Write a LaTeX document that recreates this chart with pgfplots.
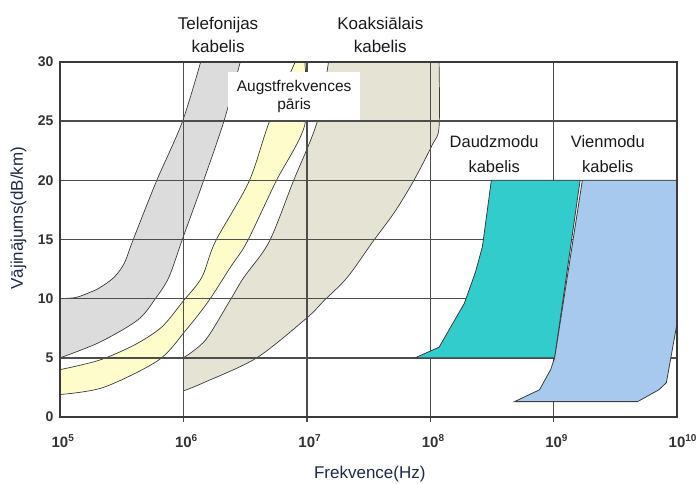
\documentclass[border=0pt]{standalone}
\usepackage{pgfplots}
\pgfplotsset{compat=1.18}
\usepgfplotslibrary{fillbetween}
\usepackage{fontspec}
\setmainfont{Liberation Sans}

\definecolor{telcol}{HTML}{DCDCDC}
\definecolor{hfcol}{HTML}{FEFCCB}
\definecolor{coaxcol}{HTML}{E4E3D4}
\definecolor{mmcol}{HTML}{33CCCC}
\definecolor{smcol}{HTML}{A7C9EE}
\definecolor{edgecol}{HTML}{3C3C3C}
\definecolor{gridcol}{HTML}{4D4D4D}
\definecolor{framecol}{HTML}{3A3A3A}
\definecolor{labcol}{HTML}{1E2A4A}
\definecolor{txtcol}{HTML}{1A1A1A}
\definecolor{tickcol}{HTML}{333333}

\newcommand{\pw}[1]{\textbf{10}\rlap{\raisebox{6bp}{\fontsize{10bp}{10bp}\selectfont\bfseries #1}}}

\begin{document}
\begin{tikzpicture}[
  gridline/.style={draw=gridcol, line width=1.4bp},
  edge/.style={draw=edgecol, line width=0.7bp, smooth, tension=0.5},
  lbl/.style={font=\fontsize{17bp}{20bp}\selectfont, text=txtcol, inner sep=0pt, anchor=base},
]
\begin{axis}[
  set layers,
  xmode=log, log basis x=10,
  scale only axis, width=617bp, height=355bp,
  xmin=1e5, xmax=1e10, ymin=0, ymax=30,
  xminorticks=false,
  xtick={1e5,1e6,1e7,1e8,1e9,1e10},
  xticklabels={\pw{5},\pw{6},\pw{7},\pw{8},\pw{9},\pw{10}},
  ytick={0,5,10,15,20,25,30},
  major tick length=0pt,
  xticklabel style={font=\fontsize{15bp}{15bp}\selectfont\bfseries, text=tickcol, anchor=base, yshift=-30bp},
  yticklabel style={font=\fontsize{14bp}{14bp}\selectfont\bfseries, text=tickcol, anchor=east, xshift=-3bp},
  /pgf/number format/assume math mode=true,
  axis line style={draw=framecol, line width=2.2bp},
  clip=true, clip mode=individual,
]
% telephone cable band: low-frequency edge and high-frequency edge
\addplot[edge, name path=telA] coordinates {
  (1e5,10) (1.34e5,10.1) (1.72e5,10.5) (2.08e5,10.9) (2.74e5,11.8) (3.32e5,13.0)
  (3.89e5,14.9) (6.03e5,19.9) (9.77e5,24.9) (1.38e6,30)
};
\addplot[edge, name path=telB] coordinates {
  (1e5,5) (2.08e5,6.3) (4.27e5,8.2) (5.93e5,10) (7.62e5,11.8) (9.8e5,15)
  (1.46e6,20) (2.13e6,25) (2.89e6,30)
};
\addplot[fill=telcol, draw=none] fill between[of=telA and telB];

% high-frequency pair band
\addplot[edge, name path=hfA] coordinates {
  (1e5,4) (2.08e5,4.8) (4.03e5,6.1) (6.67e5,7.6) (9.8e5,9.7) (1.41e6,11.8)
  (1.81e6,14.8) (3.40e6,19.9) (4.95e6,24.9) (8.05e6,30)
};
\addplot[edge, name path=hfB] coordinates {
  (1e5,1.9) (2.25e5,2.5) (6.28e5,4.8) (1.05e6,7.35) (1.60e6,9.8) (2.42e6,12.7)
  (3.28e6,14.8) (5.62e6,19.9) (9.64e6,24.7) (9.64e6,30)
};
\addplot[fill=hfcol, draw=none] fill between[of=hfA and hfB];

% coaxial cable band
\addplot[edge, name path=coA] coordinates {
  (1e6,5.0) (1.51e6,6.5) (2.37e6,9.8) (3.09e6,11.8) (4.95e6,14.8)
  (7.76e6,19.9) (1.21e7,24.9) (1.50e7,30)
};
\addplot[edge, name path=coB] coordinates {
  (1e6,2.2) (1.46e6,2.9) (3.93e6,5.0) (1e7,8.37) (1.37e7,9.8) (2.13e7,11.8)
  (3.42e7,14.8) (5.13e7,17.3) (7.29e7,19.9) (1.04e8,23.0) (1.18e8,24.5) (1.18e8,30)
};
\addplot[fill=coaxcol, draw=none] fill between[of=coA and coB];

% grid lines
\draw[gridline] (axis cs:1e5,5) -- (axis cs:1e10,5);
\draw[gridline] (axis cs:1e5,10) -- (axis cs:1e10,10);
\draw[gridline] (axis cs:1e5,15) -- (axis cs:1e10,15);
\draw[gridline] (axis cs:1e5,20) -- (axis cs:1e10,20);
\draw[gridline] (axis cs:1e5,25) -- (axis cs:1e10,25);
\draw[gridline] (axis cs:1e6,-0.45) -- (axis cs:1e6,30);
\draw[gridline] (axis cs:1e7,-0.45) -- (axis cs:1e7,30);
\draw[gridline] (axis cs:1e8,-0.45) -- (axis cs:1e8,30);
\draw[gridline] (axis cs:1e9,-0.45) -- (axis cs:1e9,30);

% multimode fibre
\addplot[draw=edgecol, line width=0.8bp, fill=mmcol] coordinates {
  (3.13e8,20) (1.64e9,20) (1.02e9,5) (7.55e7,5) (1.18e8,5.9)
  (1.89e8,9.6) (2.32e8,12.2) (2.65e8,14.4)
} -- cycle;
% single-mode fibre
\addplot[draw=edgecol, line width=0.8bp, fill=smcol] coordinates {
  (1.71e9,20) (1e10,20) (1e10,7.9) (8.2e9,2.9) (7.13e9,2.3) (4.8e9,1.3)
  (4.82e8,1.3) (7.69e8,2.3) (9.46e8,4.0) (1.02e9,5)
} -- cycle;

% frame
\draw[draw=framecol, line width=2.2bp] (rel axis cs:0,0) rectangle (rel axis cs:1,1);

% region labels
\node[fill=white, minimum width=132bp, minimum height=48bp, inner sep=0pt] at (axis cs:7.9e6,27.1) {};
\node[lbl, font=\fontsize{15.5bp}{18bp}\selectfont] at (axis cs:7.9e6,27.47) {Augstfrekvences};
\node[lbl, font=\fontsize{15.5bp}{18bp}\selectfont] at (axis cs:7.9e6,25.95) {pāris};
\node[lbl] at (axis cs:1.91e6,32.71) {Telefonijas};
\node[lbl] at (axis cs:1.91e6,30.77) {kabelis};
\node[lbl] at (axis cs:3.94e7,32.71) {Koaksiālais};
\node[lbl] at (axis cs:3.94e7,30.77) {kabelis};
\node[lbl, font=\fontsize{16.5bp}{20bp}\selectfont] at (axis cs:3.3e8,22.74) {Daudzmodu};
\node[lbl, font=\fontsize{16.5bp}{20bp}\selectfont] at (axis cs:3.3e8,20.63) {kabelis};
\node[lbl, font=\fontsize{16.5bp}{20bp}\selectfont] at (axis cs:2.75e9,22.74) {Vienmodu};
\node[lbl, font=\fontsize{16.5bp}{20bp}\selectfont] at (axis cs:2.75e9,20.63) {kabelis};

% axis titles
\node[font=\fontsize{17bp}{20bp}\selectfont, text=labcol, rotate=90] at (axis cs:4.61e4,16.8) {Vājinājums(dB/km)};
\node[font=\fontsize{17bp}{20bp}\selectfont, text=labcol] at (axis cs:3.24e7,-4.82) {Frekvence(Hz)};

\coordinate (ll) at (rel axis cs:0,0);
\end{axis}
\pgfresetboundingbox
\path[use as bounding box] (ll) ++(-60bp,-67bp) rectangle ++(700bp,484bp);
\end{tikzpicture}
\end{document}
